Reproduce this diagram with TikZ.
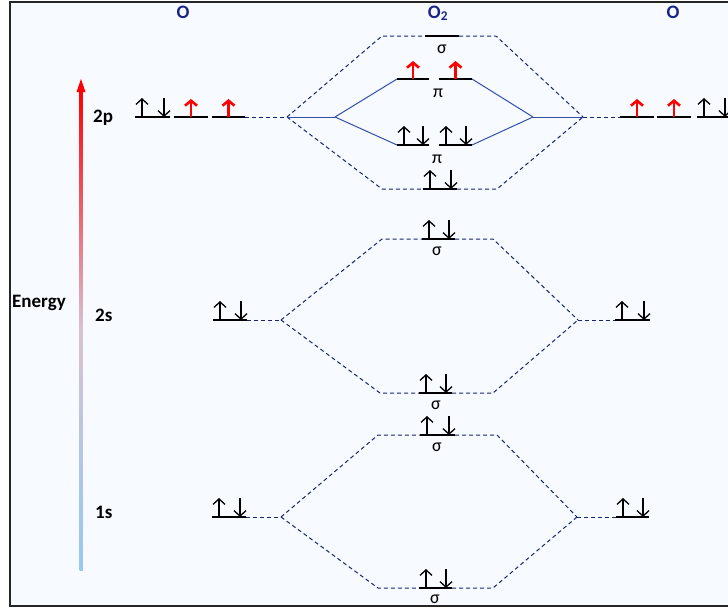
\documentclass[tikz,border=0pt]{standalone}
\usepackage{fontspec}
\setmainfont{Carlito}
\usetikzlibrary{arrows.meta,calc}
\definecolor{navy}{RGB}{25,35,115}
\definecolor{linkblue}{RGB}{50,80,170}
\definecolor{bgc}{RGB}{247,251,255}
\definecolor{titleblue}{RGB}{25,35,135}
\definecolor{ebottom}{RGB}{150,200,240}
\definecolor{emid}{RGB}{215,195,210}
\tikzset{
  orbline/.style={line width=2pt, black},
  dashlink/.style={navy, line width=1pt, dash pattern=on 4pt off 3pt},
  solidlink/.style={linkblue, line width=1pt},
  eup/.style={black, line width=1.3pt, -{Straight Barb[length=5.5pt,width=12pt]}},
  eupred/.style={red, line width=2.6pt, -{Straight Barb[length=5pt,width=12pt]}},
  lvl/.style={font=\fontsize{19}{22}\selectfont\bfseries, anchor=base west, inner sep=0pt},
  ttl/.style={font=\fontsize{19}{22}\selectfont\bfseries, text=titleblue, anchor=base, inner sep=0pt},
  mo/.style={font=\fontsize{18}{20}\selectfont, anchor=base, inner sep=0pt},
}
\newcommand\mkorb[4]{\coordinate (#1-l) at (#2,#4); \coordinate (#1-r) at (#3,#4); \draw[orbline] (#1-l) -- (#1-r);}
\newcommand\mkpair[1]{\draw[eup] ($(#1-l)+(7,0)$) -- ++(0,-19); \draw[eup] ($(#1-r)+(-6,-19)$) -- ++(0,19);}
\newcommand\mkred[1]{\draw[eupred] ($(#1-l)!0.5!(#1-r)$) -- ++(0,-18);}
\begin{document}
\begin{tikzpicture}[x=1pt,y=-1pt]
\useasboundingbox (0,0) rectangle (728,613);
\fill[white] (0,0) rectangle (728,613);
\fill[bgc] (10,2) rectangle (728,606);
\draw[line width=2pt, black!85] (728,2) -- (10,2) -- (10,606) -- (728,606);

% titles
\node[ttl] (tO1) at (183,18) {O};
\node[ttl] (tO2) at (438,18) {O\textsubscript{2}};
\node[ttl] (tO3) at (673,18) {O};

% energy axis
\shade[bottom color=ebottom, top color=red, middle color=emid] (79.5,570) rectangle (82.5,90);
\fill[red] (81,79) -- (76.5,92) -- (85.5,92) -- cycle;
\node[lvl] (en) at (12,307) {Energy};
\node[lvl] (l2p) at (93,122) {2p};
\node[lvl] (l2s) at (95,321) {2s};
\node[lvl] (l1s) at (95,518) {1s};

% ---------- 2p ----------
\mkorb{Lp1}{135}{170}{117} \mkorb{Lp2}{174}{208}{117} \mkorb{Lp3}{212}{245}{117}
\mkpair{Lp1} \mkred{Lp2} \mkred{Lp3}
\mkorb{Rp1}{620}{654}{117} \mkorb{Rp2}{657}{691}{117} \mkorb{Rp3}{697}{731}{117}
\mkred{Rp1} \mkred{Rp2} \mkpair{Rp3}
\coordinate (PL) at (287,117); \coordinate (PR) at (583,117);
\coordinate (QL) at (335,117); \coordinate (QR) at (533,117);
\mkorb{sps}{425}{459}{36}
\mkorb{pgs1}{397}{429}{79} \mkorb{pgs2}{439}{472}{79}
\mkred{pgs1} \mkred{pgs2}
\mkorb{pu1}{397}{429}{145} \mkorb{pu2}{439}{472}{145}
\mkpair{pu1} \mkpair{pu2}
\mkorb{sp}{423}{457}{189}
\mkpair{sp}
\draw[dashlink] (Lp3-r) -- (PL);
\draw[dashlink] (PR) -- (Rp1-l);
\draw[dashlink] (PL) -- (382,36) -- (sps-l);
\draw[dashlink] (sps-r) -- (496,36) -- (PR);
\draw[dashlink] (PL) -- (382,189) -- (sp-l);
\draw[dashlink] (sp-r) -- (497,189) -- (PR);
\draw[solidlink] (PL) -- (QL);
\draw[solidlink] (QL) -- (pgs1-l);
\draw[solidlink] (QL) -- (pu1-l);
\draw[solidlink] (pgs2-r) -- (QR);
\draw[solidlink] (pu2-r) -- (QR);
\draw[solidlink] (QR) -- (PR);
\node[mo] (lsps) at (442,53) {σ};
\node[mo] (lpgs) at (438,97) {π};
\node[mo] (lpu) at (437,163) {π};

% ---------- 2s ----------
\mkorb{Ls}{213}{247}{320} \mkpair{Ls}
\mkorb{Rs}{615}{650}{320} \mkpair{Rs}
\coordinate (SL) at (281,320); \coordinate (SR) at (578,320);
\mkorb{sss}{422}{455}{239} \mkpair{sss}
\mkorb{ss}{419}{452}{393} \mkpair{ss}
\draw[dashlink] (Ls-r) -- (SL);
\draw[dashlink] (SR) -- (Rs-l);
\draw[dashlink] (SL) -- (382,239) -- (sss-l);
\draw[dashlink] (sss-r) -- (493,239) -- (SR);
\draw[dashlink] (SL) -- (380,393) -- (ss-l);
\draw[dashlink] (ss-r) -- (493,393) -- (SR);
\node[mo] (lsss) at (437,255) {σ};
\node[mo] (lss) at (436,409) {σ};

% ---------- 1s ----------
\mkorb{L1}{212}{246}{517} \mkpair{L1}
\mkorb{R1}{616}{649}{517} \mkpair{R1}
\coordinate (OL) at (281,517); \coordinate (OR) at (577,517);
\mkorb{s1s}{420}{455}{435} \mkpair{s1s}
\mkorb{s1}{419}{452}{588} \mkpair{s1}
\draw[dashlink] (L1-r) -- (OL);
\draw[dashlink] (OR) -- (R1-l);
\draw[dashlink] (OL) -- (378,435) -- (s1s-l);
\draw[dashlink] (s1s-r) -- (497,435) -- (OR);
\draw[dashlink] (OL) -- (378,588) -- (s1-l);
\draw[dashlink] (s1-r) -- (493,588) -- (OR);
\node[mo] (ls1s) at (437,451) {σ};
\node[mo] (ls1) at (435,603) {σ};
\end{tikzpicture}
\end{document}
